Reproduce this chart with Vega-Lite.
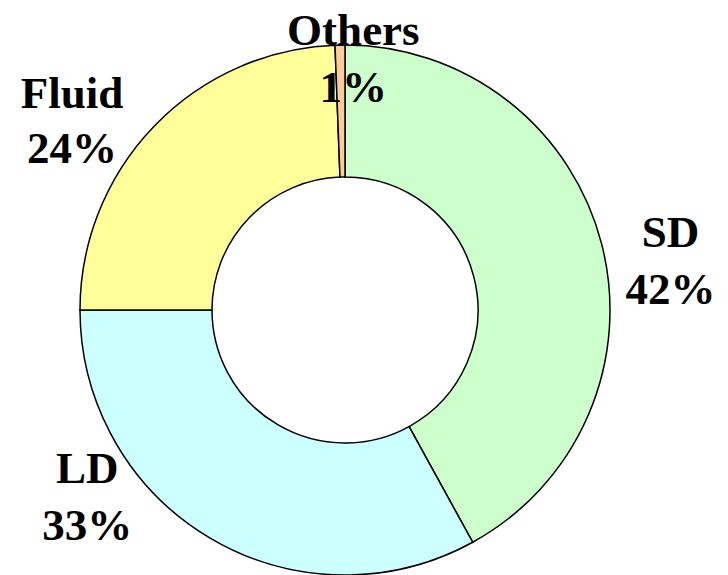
{
  "$schema": "https://vega.github.io/schema/vega-lite/v6.json",
  "width": 690,
  "height": 530,
  "autosize": "none",
  "padding": {"left": 0, "top": 45, "right": 38, "bottom": 0},
  "background": "white",
  "config": {"view": {"stroke": null}},
  "data": {"values": [
    {"category": "SD", "share": 42, "label": "SD\n42%", "rank": 1},
    {"category": "LD", "share": 33, "label": "LD\n33%", "rank": 2},
    {"category": "Fluid", "share": 24.4, "label": "Fluid\n24%", "rank": 3},
    {"category": "Others", "share": 0.6, "label": "Others\n1%", "rank": 4}
  ]},
  "encoding": {
    "theta": {"field": "share", "type": "quantitative", "stack": true},
    "order": {"field": "rank", "type": "quantitative"}
  },
  "layer": [
    {
      "mark": {"type": "arc", "outerRadius": 265, "innerRadius": 133, "stroke": "black", "strokeWidth": 1.5},
      "encoding": {
        "color": {"field": "category", "type": "nominal", "legend": null,
          "scale": {"domain": ["SD", "LD", "Fluid", "Others"], "range": ["#CCFFCC", "#CCFFFF", "#FFFF99", "#FFCC99"]}}
      }
    },
    {
      "mark": {"type": "text", "radius": 300, "dx": 35, "dy": 12, "font": "Liberation Serif", "fontWeight": "bold", "fontSize": 45, "lineHeight": 57, "lineBreak": "\n", "align": "center", "baseline": "alphabetic", "color": "black"},
      "encoding": {"text": {"condition": {"test": "datum.category === 'SD'", "field": "label"}, "value": ""}}
    },
    {
      "mark": {"type": "text", "radius": 300, "dx": -105, "dy": -85, "font": "Liberation Serif", "fontWeight": "bold", "fontSize": 45, "lineHeight": 57, "lineBreak": "\n", "align": "center", "baseline": "alphabetic", "color": "black"},
      "encoding": {"text": {"condition": {"test": "datum.category === 'LD'", "field": "label"}, "value": ""}}
    },
    {
      "mark": {"type": "text", "radius": 300, "dx": -57, "dy": 6, "font": "Liberation Serif", "fontWeight": "bold", "fontSize": 45, "lineHeight": 55, "lineBreak": "\n", "align": "center", "baseline": "alphabetic", "color": "black"},
      "encoding": {"text": {"condition": {"test": "datum.category === 'Fluid'", "field": "label"}, "value": ""}}
    },
    {
      "mark": {"type": "text", "radius": 300, "dx": 14, "dy": 35, "font": "Liberation Serif", "fontWeight": "bold", "fontSize": 45, "lineHeight": 57, "lineBreak": "\n", "align": "center", "baseline": "alphabetic", "color": "black"},
      "encoding": {"text": {"condition": {"test": "datum.category === 'Others'", "field": "label"}, "value": ""}}
    }
  ]
}
